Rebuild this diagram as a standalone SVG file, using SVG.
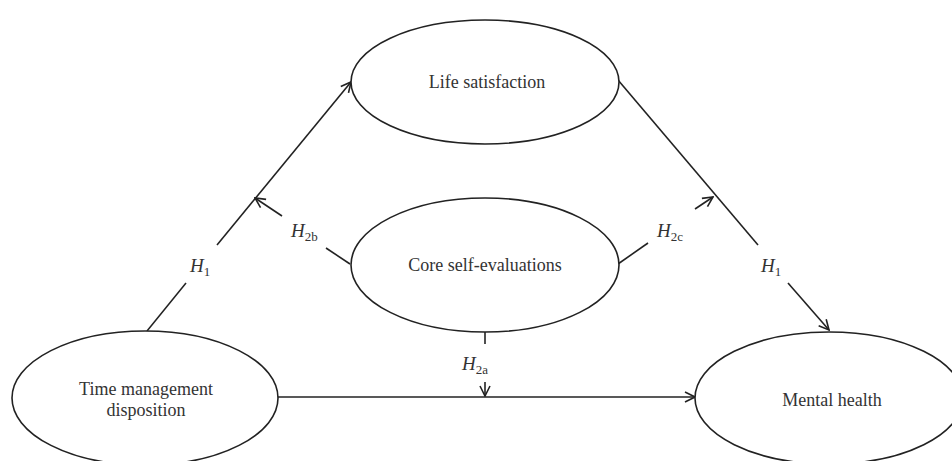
<svg xmlns="http://www.w3.org/2000/svg" width="952" height="461" viewBox="0 0 952 461">
<style>
.node{fill:#fff;stroke:#222;stroke-width:1.6}
.lbl{font-family:"Liberation Serif","Times New Roman",serif;font-size:18px;fill:#333;text-anchor:middle}
.h{font-family:"Liberation Serif","Times New Roman",serif;font-size:19px;fill:#333;font-style:italic}
.sub{font-style:normal;font-size:13px}
.ln{stroke:#222;stroke-width:1.6;fill:none}
</style>
<defs>
<marker id="arr" viewBox="0 0 12 12" refX="11" refY="6" markerWidth="12" markerHeight="12" markerUnits="userSpaceOnUse" orient="auto">
<path d="M1,1 L11,6 L1,11" fill="none" stroke="#222" stroke-width="1.6"/>
</marker>
</defs>
<rect width="952" height="461" fill="#fff"/>
<g id="connectors">
<line class="ln" x1="147" y1="331" x2="186" y2="283"/>
<line class="ln" x1="217" y1="245" x2="351" y2="82" marker-end="url(#arr)"/>
<line class="ln" x1="618" y1="80" x2="758" y2="245"/>
<line class="ln" x1="788" y1="283" x2="829" y2="330" marker-end="url(#arr)"/>
<line class="ln" x1="278" y1="397" x2="695" y2="397" stroke-width="2.2" marker-end="url(#arr)"/>
<line class="ln" x1="350" y1="264" x2="326" y2="248"/>
<line class="ln" x1="282" y1="216" x2="255" y2="198" marker-end="url(#arr)"/>
<line class="ln" x1="618" y1="264" x2="648" y2="243"/>
<line class="ln" x1="695" y1="209" x2="713" y2="197" marker-end="url(#arr)"/>
<line class="ln" x1="485" y1="332" x2="485" y2="344"/>
<line class="ln" x1="485" y1="382" x2="485" y2="396" marker-end="url(#arr)"/>
<text class="h" x="190" y="272">H<tspan class="sub" dy="4">1</tspan></text>
<text class="h" x="761" y="272">H<tspan class="sub" dy="4">1</tspan></text>
<text class="h" x="291" y="237">H<tspan class="sub" dy="4">2b</tspan></text>
<text class="h" x="657" y="237">H<tspan class="sub" dy="4">2c</tspan></text>
<text class="h" x="462" y="370">H<tspan class="sub" dy="4">2a</tspan></text>
</g>
<g id="life">
<ellipse class="node" cx="485" cy="82" rx="134" ry="62"/>
<text class="lbl" x="487" y="88">Life satisfaction</text>
</g>
<g id="core">
<ellipse class="node" cx="485" cy="265" rx="134" ry="67"/>
<text class="lbl" x="485" y="271">Core self-evaluations</text>
</g>
<g id="time">
<ellipse class="node" cx="145" cy="398" rx="133" ry="67"/>
<text class="lbl" x="146" y="395">Time management</text>
<text class="lbl" x="146" y="416">disposition</text>
</g>
<g id="mental">
<ellipse class="node" cx="829" cy="398" rx="134" ry="66"/>
<text class="lbl" x="832" y="406">Mental health</text>
</g>
</svg>
